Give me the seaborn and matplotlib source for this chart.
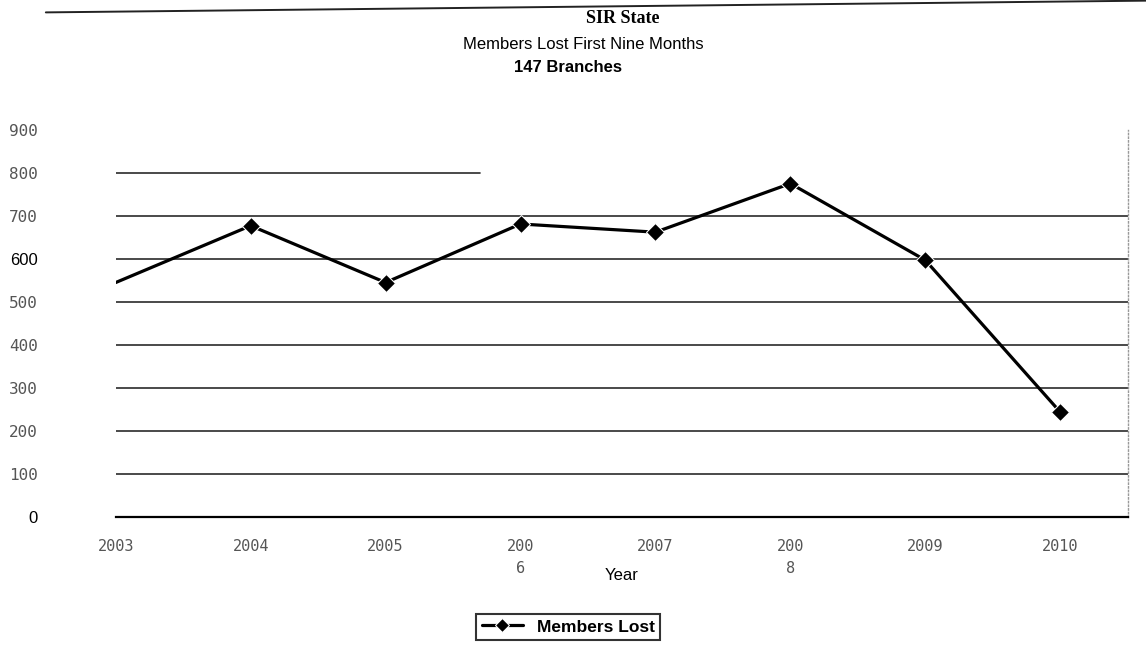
import matplotlib
matplotlib.use("Agg")
import matplotlib.pyplot as plt
import seaborn as sns
import pandas as pd
from matplotlib.lines import Line2D

# data
years = [2003, 2004, 2005, 2006, 2007, 2008, 2009, 2010]
members_lost = [545, 677, 545, 681, 662, 775, 597, 244]
year_labels = ["2003", "2004", "2005", "200\n6", "2007", "200\n8", "2009", "2010"]
y_ticks = [0, 100, 200, 300, 400, 500, 600, 700, 800, 900]


def main():
    sns.set_style("white")
    plt.rcParams["font.family"] = ["Liberation Sans", "DejaVu Sans"]
    plt.rcParams["text.color"] = "black"
    plt.rcParams["axes.labelcolor"] = "black"

    df = pd.DataFrame({"Year": years, "Members Lost": members_lost})

    fig = plt.figure(figsize=(11.46, 6.52), dpi=100)
    ax = fig.add_axes([0.101, 0.207, 0.883, 0.594])

    # gridlines (the 800 one only runs part way on the scan)
    for v in y_ticks[1:-1]:
        ax.axhline(v, xmin=0, xmax=0.36 if v == 800 else 1, color="#2a2a2a", lw=1.2, zorder=1)

    sns.lineplot(data=df, x="Year", y="Members Lost", ax=ax, color="black", lw=2.3,
                 marker="D", markersize=9, markevery=list(range(1, len(years))),
                 label="Members Lost", legend=False, zorder=3)

    ax.set_xlim(2003, 2010.5)
    ax.set_ylim(0, 900)

    # y axis labels, far left, grey typewriter look
    ax.set_yticks(y_ticks)
    ax.set_yticklabels([str(v) for v in y_ticks])
    ax.tick_params(axis="y", length=0, pad=56)
    for lab in ax.get_yticklabels():
        if lab.get_text() in ("600", "0"):
            lab.set_fontfamily("Liberation Sans")
            lab.set_color("black")
            lab.set_fontsize(12)
        else:
            lab.set_fontfamily("DejaVu Sans Mono")
            lab.set_color("#555555")
            lab.set_fontsize(11.5)

    # x axis: labels at the years, tick marks between categories
    ax.set_xticks(years)
    ax.set_xticklabels(year_labels, fontfamily="DejaVu Sans Mono", color="#555555",
                       fontsize=11, va="top", linespacing=1.6)
    ax.tick_params(axis="x", which="major", length=0, pad=16)
    ax.set_xticks([y + 0.5 for y in years[:-1]], minor=True)
    ax.tick_params(axis="x", which="minor", direction="out", length=6, width=1, color="black")
    ax.set_xlabel("Year", fontsize=12, labelpad=-6)
    ax.set_ylabel("")

    for s in ["top", "left"]:
        ax.spines[s].set_visible(False)
    ax.spines["bottom"].set_color("black")
    ax.spines["bottom"].set_linewidth(1.6)
    ax.spines["right"].set_color("#999999")
    ax.spines["right"].set_linestyle(":")
    ax.spines["right"].set_linewidth(1)

    # titles
    fig.text(0.543, 0.971, "SIR State", ha="center", va="center", fontsize=13,
             fontweight="bold", fontfamily="Liberation Serif")
    fig.text(0.509, 0.931, "Members Lost First Nine Months", ha="center", va="center", fontsize=12)
    fig.text(0.496, 0.896, "147 Branches", ha="center", va="center", fontsize=12, fontweight="bold")

    # scan edge line at the top
    fig.add_artist(Line2D([0.04, 1.0], [0.981, 0.999], transform=fig.transFigure,
                          color="#222222", lw=1.4))

    handles, labels = ax.get_legend_handles_labels()
    leg = fig.legend(handles, labels, loc="upper center", bbox_to_anchor=(0.496, 0.058),
                     borderaxespad=0, frameon=True, fancybox=False, edgecolor="black",
                     borderpad=0.3, handlelength=2.4, markerscale=0.8,
                     prop={"weight": "bold", "size": 12.5})
    leg.get_frame().set_linewidth(1.5)

    fig.savefig("out.png", dpi=100)
    plt.close("all")


if __name__ == "__main__":
    main()
